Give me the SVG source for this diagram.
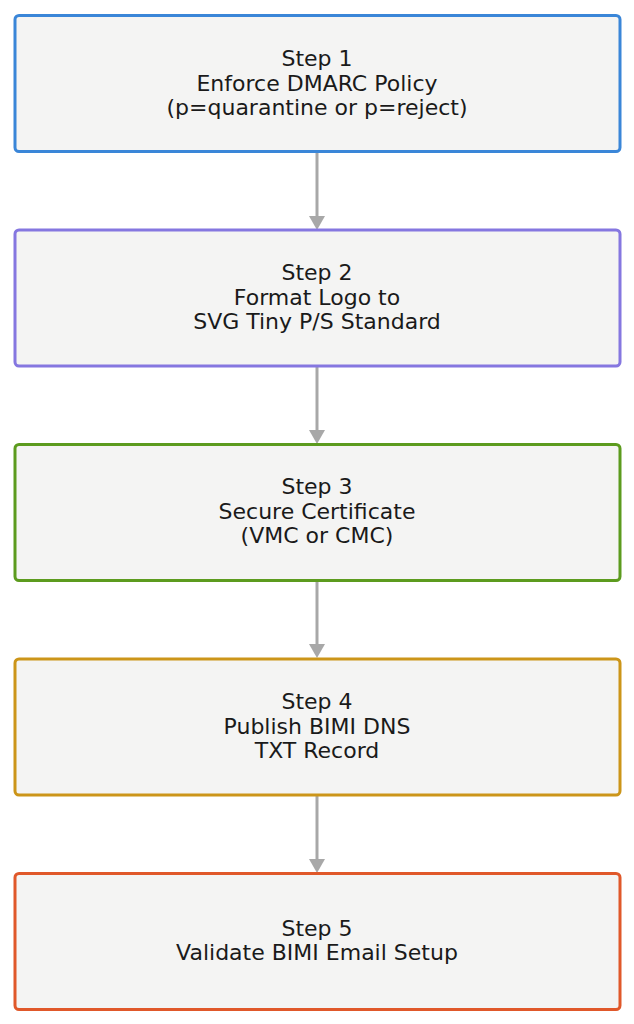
<svg xmlns="http://www.w3.org/2000/svg" width="634" height="1024" viewBox="0 0 634 1024">
<style>
.box{fill:#f4f4f3;stroke-width:3}
.t{font-family:"DejaVu Sans",sans-serif;font-size:22px;fill:#1a1a1a;text-anchor:middle}
.c{stroke:#a8a8a8;stroke-width:3;fill:none}
.ah{fill:#a8a8a8}
</style>
<rect width="634" height="1024" fill="#ffffff"/>
<g id="connectors">
<path class="c" d="M317,152 V216"/><path class="ah" d="M309,216 H325 L317,230 Z"/>
<path class="c" d="M317,367 V430"/><path class="ah" d="M309,430 H325 L317,444 Z"/>
<path class="c" d="M317,581 V644"/><path class="ah" d="M309,644 H325 L317,658 Z"/>
<path class="c" d="M317,796 V859"/><path class="ah" d="M309,859 H325 L317,873 Z"/>
</g>
<g id="step1">
<rect class="box" x="15" y="15.5" width="605" height="136" rx="4" stroke="#3a86d8"/>
<text class="t" x="317" y="66">Step 1</text>
<text class="t" x="317" y="90.5">Enforce DMARC Policy</text>
<text class="t" x="317" y="115">(p=quarantine or p=reject)</text>
</g>
<g id="step2">
<rect class="box" x="15" y="230" width="605" height="136" rx="4" stroke="#8577e0"/>
<text class="t" x="317" y="280">Step 2</text>
<text class="t" x="317" y="304.5">Format Logo to</text>
<text class="t" x="317" y="329">SVG Tiny P/S Standard</text>
</g>
<g id="step3">
<rect class="box" x="15" y="444.5" width="605" height="136" rx="4" stroke="#5c9b1e"/>
<text class="t" x="317" y="494">Step 3</text>
<text class="t" x="317" y="518.5">Secure Certificate</text>
<text class="t" x="317" y="543">(VMC or CMC)</text>
</g>
<g id="step4">
<rect class="box" x="15" y="659" width="605" height="136" rx="4" stroke="#cc9519"/>
<text class="t" x="317" y="709">Step 4</text>
<text class="t" x="317" y="733.5">Publish BIMI DNS</text>
<text class="t" x="317" y="758">TXT Record</text>
</g>
<g id="step5">
<rect class="box" x="15" y="873.5" width="605" height="136" rx="4" stroke="#e0582a"/>
<text class="t" x="317" y="935.5">Step 5</text>
<text class="t" x="317" y="960">Validate BIMI Email Setup</text>
</g>
</svg>
